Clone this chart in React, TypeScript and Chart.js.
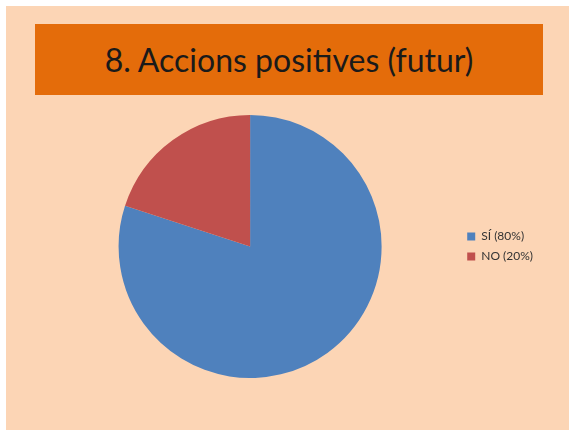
import React, { useEffect, useRef } from "react";
import { Chart, registerables } from "chart.js";

Chart.register(...registerables);

const title = "8. Accions positives (futur)";
const categories = ["SÍ (80%)", "NO (20%)"];
const values = [80, 20];
const colors = ["#4F81BD", "#C0504D"];

export default function App() {
  const ref = useRef<HTMLCanvasElement | null>(null);

  useEffect(() => {
    document.body.style.margin = "0";
    const chart = new Chart(ref.current!, {
      type: "pie",
      data: {
        labels: categories,
        datasets: [
          {
            data: values,
            backgroundColor: colors,
            borderWidth: 0,
          },
        ],
      },
      options: {
        animation: false,
        responsive: false,
        maintainAspectRatio: false,
        layout: { padding: { left: 35, right: 26, top: 0, bottom: 0 } },
        plugins: {
          tooltip: { enabled: false },
          legend: {
            position: "right",
            labels: {
              boxWidth: 8,
              boxHeight: 8,
              padding: 8,
              color: "#333",
              font: { family: "Lato, 'Open Sans', sans-serif", size: 12 },
            },
          },
        },
      },
    });
    return () => chart.destroy();
  }, []);

  return (
    <div style={{ position: "fixed", left: 0, top: 0, width: 569, height: 430, background: "#fff", overflow: "hidden" }}>
      <div style={{ position: "absolute", left: 6, top: 6, width: 563, height: 424, background: "#FCD5B5" }} />
      <div
        style={{
          position: "absolute",
          left: 35,
          top: 24,
          width: 508,
          height: 71,
          background: "#E46C0A",
          display: "flex",
          alignItems: "center",
          justifyContent: "center",
          fontFamily: "Lato, 'Open Sans', sans-serif",
          fontSize: 32,
          color: "#1a1a1a",
        }}
      >
        {title}
      </div>
      <canvas
        ref={ref}
        width={563}
        height={263}
        style={{ position: "absolute", left: 6, top: 115, width: 563, height: 263 }}
      />
    </div>
  );
}
